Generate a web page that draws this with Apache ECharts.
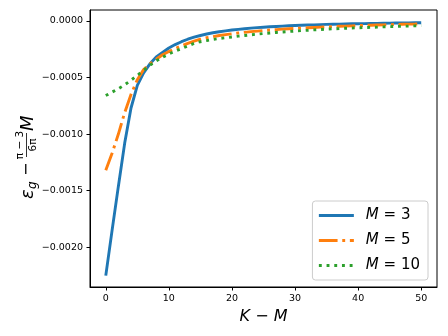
<!DOCTYPE html>
<html>
<head>
<meta charset="utf-8">
<script src="https://cdn.jsdelivr.net/npm/echarts@6/dist/echarts.min.js"></script>
<style>
  html, body { margin: 0; padding: 0; background: #fff; }
  #chart { width: 448px; height: 336px; }
</style>
</head>
<body>
<div id="chart"></div>
<script>
// K - M values on the x axis
const kValues = [0, 1, 2, 3, 4, 5, 6, 7, 8, 9, 10, 11, 12, 13, 14, 15, 16, 17, 18, 19, 20,
  21, 22, 23, 24, 25, 26, 27, 28, 29, 30, 31, 32, 33, 34, 35, 36, 37, 38, 39, 40,
  41, 42, 43, 44, 45, 46, 47, 48, 49, 50];

const m3 = [-0.00225, -0.00185, -0.00146, -0.00108, -0.00077, -0.00057, -0.00046, -0.00038, -0.00032, -0.00028,
  -0.00024, -0.00021, -0.000185, -0.000163, -0.000145, -0.00013, -0.000117, -0.000106, -0.000097, -0.000089,
  -0.000082, -0.000076, -0.00007, -0.000065, -0.000061, -0.000057, -0.000053, -0.00005, -0.000047, -0.000044,
  -0.000042, -0.00004, -0.000038, -0.000036, -0.000034, -0.000032, -0.000031, -0.00003, -0.000028, -0.000027,
  -0.000026, -0.000025, -0.000024, -0.000023, -0.000022, -0.000021, -0.00002, -0.00002, -0.000019, -0.000018, -0.000017];

const m5 = [-0.00132, -0.00117, -0.001, -0.00081, -0.00065, -0.00052, -0.00043, -0.00038, -0.00034, -0.0003,
  -0.000272, -0.000245, -0.000222, -0.0002, -0.00018, -0.000163, -0.00015, -0.00014, -0.00013, -0.000122,
  -0.000115, -0.000108, -0.000102, -0.000096, -0.000091, -0.000086, -0.000082, -0.000078, -0.000074, -0.000071,
  -0.000068, -0.000065, -0.000062, -0.000059, -0.000056, -0.000054, -0.000051, -0.000049, -0.000047, -0.000045,
  -0.000043, -0.000041, -0.000039, -0.000037, -0.000036, -0.000034, -0.000033, -0.000031, -0.00003, -0.000029, -0.000027];

const m10 = [-0.00066, -0.00063, -0.0006, -0.000565, -0.000525, -0.000482, -0.000437, -0.000393, -0.000355, -0.000322,
  -0.000293, -0.000268, -0.000246, -0.000222, -0.0002, -0.000185, -0.000175, -0.000165, -0.000157, -0.00015,
  -0.000143, -0.000136, -0.00013, -0.000124, -0.000118, -0.000113, -0.000108, -0.000103, -0.000099, -0.000095,
  -0.000091, -0.000087, -0.000084, -0.00008, -0.000077, -0.000074, -0.000071, -0.000069, -0.000066, -0.000064,
  -0.000062, -0.00006, -0.000058, -0.000056, -0.000054, -0.000052, -0.00005, -0.000048, -0.000047, -0.000045, -0.000043];

const mLabels = ['3', '5', '10'];
const xTicks = [0, 10, 20, 30, 40, 50];
const yTicks = [-0.002, -0.0015, -0.001, -0.0005, 0];

const FONT = 'DejaVu Sans';
const pairs = (ys) => kValues.map((k, i) => [k, ys[i]]);
const fmtY = (v) => (v < 0 ? '\u2212' : '') + Math.abs(v).toFixed(4);

const chart = echarts.init(document.getElementById('chart'));

const lineW = 2.9;
const seriesDefs = [
  { data: m3, color: '#1f77b4', type: 'solid' },
  { data: m5, color: '#ff7f0e', type: [18.7, 4.7, 2.9, 4.7] },
  { data: m10, color: '#2ca02c', type: [2.9, 4.8] }
];

const option = {
  animation: false,
  backgroundColor: '#fff',
  grid: {
    left: 90, right: 11, top: 10, bottom: 49,
    show: true, borderColor: '#000', borderWidth: 1, backgroundColor: 'transparent'
  },
  legend: {
    orient: 'vertical',
    right: 20,
    bottom: 56,
    itemWidth: 35,
    itemHeight: 14,
    itemGap: 10,
    padding: [7, 8, 7, 5],
    borderColor: '#cccccc',
    borderWidth: 1,
    borderRadius: 3,
    backgroundColor: 'rgba(255,255,255,0.8)',
    itemStyle: { opacity: 0 },
    lineStyle: { width: lineW },
    data: mLabels.map(m => 'M = ' + m),
    formatter: (name) => '{i|M}{n|' + name.slice(1) + '}',
    textStyle: {
      padding: [0, 0, 0, 7],
      rich: {
        i: { fontFamily: FONT, fontStyle: 'italic', fontSize: 15, color: '#000' },
        n: { fontFamily: FONT, fontSize: 15, color: '#000' }
      }
    }
  },
  xAxis: {
    type: 'value',
    min: -2.5,
    max: 52.5,
    name: '{i|K}{n| \u2212 }{i|M}',
    nameLocation: 'middle',
    nameGap: 13,
    nameTextStyle: {
      verticalAlign: 'top',
      rich: {
        i: { fontFamily: FONT, fontStyle: 'italic', fontSize: 16, color: '#000' },
        n: { fontFamily: FONT, fontSize: 16, color: '#000' }
      }
    },
    axisLine: { show: true, onZero: false, lineStyle: { color: '#000', width: 1 } },
    axisTick: { show: true, length: 3.5, lineStyle: { color: '#000' }, customValues: xTicks },
    axisLabel: { color: '#000', fontFamily: FONT, fontSize: 9.5, margin: 7, customValues: xTicks },
    splitLine: { show: false }
  },
  yAxis: {
    type: 'value',
    min: -0.00235,
    max: 0.000095,
    axisLine: { show: true, onZero: false, lineStyle: { color: '#000', width: 1 } },
    axisTick: { show: true, length: 3.5, lineStyle: { color: '#000' }, customValues: yTicks },
    axisLabel: { color: '#000', fontFamily: FONT, fontSize: 9.5, margin: 7, customValues: yTicks, formatter: fmtY },
    splitLine: { show: false }
  },
  series: seriesDefs.map((s, i) => ({
    name: 'M = ' + mLabels[i],
    type: 'line',
    data: pairs(s.data),
    showSymbol: false,
    symbol: 'none',
    smooth: false,
    color: s.color,
    lineStyle: { color: s.color, width: lineW, type: s.type, cap: 'butt' }
  })),
  graphic: [{
    type: 'group',
    x: 28,
    y: 199,
    rotation: Math.PI / 2,
    children: [
      { type: 'text', x: 0, y: 0, style: { text: '\u03b5', font: 'italic 18px ' + FONT, fill: '#000', verticalAlign: 'middle' } },
      { type: 'text', x: 10, y: 5, style: { text: 'g', font: 'italic 12px ' + FONT, fill: '#000', verticalAlign: 'middle' } },
      { type: 'text', x: 23, y: -1, style: { text: '\u2212', font: '16px ' + FONT, fill: '#000', verticalAlign: 'middle' } },
      { type: 'text', x: 54, y: -7.5, style: { text: '\u03c0 \u2212 3', font: '10.5px ' + FONT, fill: '#000', align: 'center', verticalAlign: 'middle' } },
      { type: 'line', shape: { x1: 42, y1: -1.5, x2: 66, y2: -1.5 }, style: { stroke: '#000', lineWidth: 0.8 } },
      { type: 'text', x: 54, y: 5, style: { text: '6\u03c0', font: '10.5px ' + FONT, fill: '#000', align: 'center', verticalAlign: 'middle' } },
      { type: 'text', x: 68, y: 0, style: { text: 'M', font: 'italic 18px ' + FONT, fill: '#000', verticalAlign: 'middle' } }
    ]
  }]
};

chart.setOption(option);
</script>
</body>
</html>
